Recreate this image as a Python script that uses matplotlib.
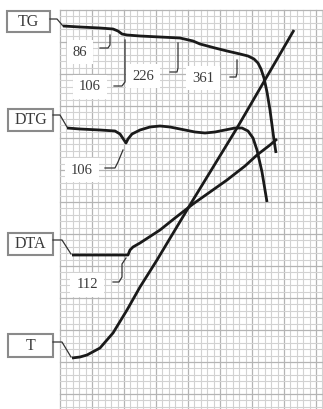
import numpy as np
import matplotlib
matplotlib.use("Agg")
import matplotlib.pyplot as plt

# thermogram traces, in chart units (x to the right, y downwards)
tg_x = [63, 80, 100, 113, 118, 122, 127, 140, 160, 180, 193, 200, 215, 227, 240, 248, 254, 258, 261, 264, 267, 270, 272, 274, 276]
tg_y = [26, 27, 28, 29, 31, 34, 35, 36, 37, 38, 41, 44, 48, 51, 54, 56, 59, 63, 69, 78, 92, 110, 125, 140, 153]

dtg_x = [67, 80, 100, 115, 120, 124, 126, 128, 132, 140, 150, 160, 170, 180, 195, 205, 215, 225, 235, 242, 248, 253, 257, 262, 267]
dtg_y = [128, 129, 130, 131, 134, 140, 143, 139, 134, 130, 127, 126, 127, 129, 132, 133, 132, 130, 128, 128, 131, 138, 150, 172, 202]

dta_x = [72, 100, 128, 130, 133, 140, 160, 175, 193, 210, 227, 245, 257, 270, 277]
dta_y = [255, 255, 255, 250, 247, 243, 230, 218, 204, 192, 180, 166, 155, 145, 139]

t_x = [72, 80, 87, 100, 113, 127, 140, 157, 193, 237, 294]
t_y = [358, 357, 355, 348, 333, 310, 287, 260, 200, 128, 30]

# curve names in boxes: name, box (x0, y0, x1, y1), leader to curve start
boxes = [
    ("TG", (7, 11, 50, 32), [(50, 19), (57, 19), (63, 26)]),
    ("DTG", (8, 109, 53, 131), [(53, 115), (60, 115), (67, 127)]),
    ("DTA", (8, 233, 53, 255), [(53, 240), (62, 240), (71, 254)]),
    ("T", (8, 334, 53, 357), [(53, 342), (62, 342), (71, 357)]),
]

# peak temperatures with their leader lines
peaks = [
    ("86", (80, 52), [(100, 48), (108, 48), (110, 45), (110, 35)]),
    ("106", (90, 87), [(114, 86), (122, 86), (125, 82), (125, 40)]),
    ("226", (143, 76), [(170, 72), (177, 72), (178, 68), (178, 43)]),
    ("361", (203, 78), [(230, 77), (236, 77), (237, 73), (237, 60)]),
    ("106", (82, 170), [(105, 168), (115, 168), (118, 162), (123, 150)]),
    ("112", (87, 285), [(113, 282), (119, 282), (122, 277), (122, 264), (126, 258)]),
]

W, H = 323, 409
fig = plt.figure(figsize=(W / 100, H / 100), dpi=100)
ax = fig.add_axes([0, 0, 1, 1])
ax.set_xlim(0, W)
ax.set_ylim(H, 0)
ax.axis("off")

# graph paper
gx0, gy0, step = 60, 10, 6.4
for i, x in enumerate(np.arange(gx0, W + 1, step)):
    major = i % 5 == 0
    ax.plot([x, x], [gy0, H], color="#b4b4b4" if major else "#d2d2d2",
            lw=0.9 if major else 0.8, zorder=1)
for i, y in enumerate(np.arange(gy0, H + 1, step)):
    major = i % 5 == 0
    ax.plot([gx0, W], [y, y], color="#b4b4b4" if major else "#d2d2d2",
            lw=0.9 if major else 0.8, zorder=1)

for xs, ys in [(tg_x, tg_y), (dtg_x, dtg_y), (dta_x, dta_y), (t_x, t_y)]:
    ax.plot(xs, ys, color="#1a1a1a", lw=2.0, solid_capstyle="butt",
            solid_joinstyle="round", zorder=4)

font = dict(family="Liberation Serif", color="#3a3a3a")

for name, (x0, y0, x1, y1), lead in boxes:
    ax.add_patch(plt.Rectangle((x0, y0), x1 - x0, y1 - y0, fill=True,
                               facecolor="white", edgecolor="#8a8a8a", lw=1.5, zorder=3))
    ax.text((x0 + x1) / 2, (y0 + y1) / 2 + 0.5, name, ha="center", va="center",
            fontsize=11.5, zorder=5, **font)
    lx, ly = zip(*lead)
    ax.plot(lx, ly, color="#333333", lw=0.9, zorder=3)

for txt, (x, y), lead in peaks:
    ax.text(x, y, txt, ha="center", va="center", fontsize=10.5, zorder=5,
            bbox=dict(boxstyle="square,pad=0.4", facecolor="white", edgecolor="none"),
            **font)
    lx, ly = zip(*lead)
    ax.plot(lx, ly, color="#333333", lw=0.9, zorder=3)

fig.savefig("out.png", dpi=100)
